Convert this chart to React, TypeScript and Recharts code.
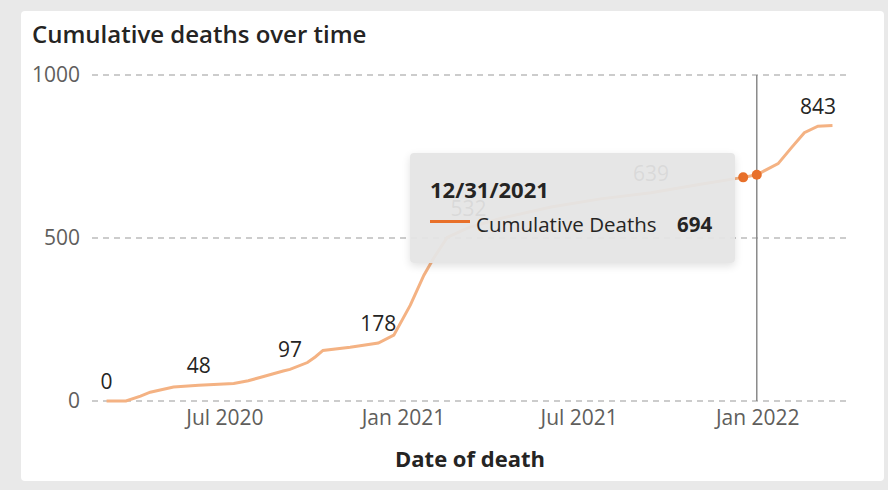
import React from 'react';
import { LineChart, Line, XAxis, YAxis, CartesianGrid, ReferenceLine, LabelList } from 'recharts';

const dates = [
  '2020-03-01', '2020-03-21', '2020-04-05', '2020-04-15', '2020-05-09', '2020-06-04',
  '2020-07-10', '2020-07-25', '2020-08-07', '2020-08-30', '2020-09-06', '2020-09-24',
  '2020-10-02', '2020-10-10', '2020-11-07', '2020-12-06', '2020-12-22', '2021-01-08',
  '2021-01-22', '2021-02-01', '2021-02-15', '2021-03-09', '2021-04-11', '2021-06-02',
  '2021-07-23', '2021-09-13', '2021-11-03', '2021-12-17', '2021-12-31', '2022-01-22',
  '2022-02-05', '2022-02-18', '2022-03-04', '2022-03-19',
];
const deaths = [
  0, 0, 15, 27, 43, 48,
  54, 62, 73, 92, 97, 118,
  135, 155, 165, 178, 202, 294,
  386, 438, 502, 532, 560, 595,
  620, 639, 665, 686, 694, 728,
  778, 823, 843, 845,
];
const labeledDates = ['2020-03-01', '2020-06-04', '2020-09-06', '2020-12-06', '2021-03-09', '2021-09-13', '2022-03-04'];
const highlightedDates = ['2021-12-17', '2021-12-31'];
const xTickDates = ['2020-07-01', '2021-01-01', '2021-07-01', '2022-01-01'];
const xTickLabels = ['Jul 2020', 'Jan 2021', 'Jul 2021', 'Jan 2022'];
const yTicks = [0, 500, 1000];
const xDomainDates = ['2020-02-15', '2022-04-04'];
const tooltipDate = '2021-12-31';
const tooltipTitle = '12/31/2021';
const seriesName = 'Cumulative Deaths';

const ts = (d: string) => new Date(d + 'T00:00:00Z').getTime();

const data = dates.map((d, i) => ({
  t: ts(d),
  date: d,
  deaths: deaths[i],
  label: labeledDates.includes(d) ? deaths[i] : null,
}));

const tooltipValue = deaths[dates.indexOf(tooltipDate)];
const FONT = '"Open Sans", "Noto Sans", sans-serif';

const renderLabel = (props: any) => {
  const { x, y, value } = props;
  if (value === null || value === undefined) return null;
  return (
    <text x={x} y={y - 12} textAnchor="middle" fontSize={21} fill="#252423" fontFamily={FONT}>
      {value}
    </text>
  );
};

const renderDot = (props: any) => {
  const { cx, cy, payload } = props;
  if (!highlightedDates.includes(payload.date)) return <g key={payload.date} />;
  return <circle key={payload.date} cx={cx} cy={cy} r={5} fill="#E8702A" stroke="none" />;
};

export default function App() {
  return (
    <div style={{ position: 'absolute', left: 0, top: 0, width: 888, height: 490, background: '#e9e9e9', fontFamily: FONT }}>
      <div style={{ position: 'absolute', left: 21, top: 11, width: 863, height: 470, background: '#ffffff', borderRadius: 4 }} />
      <div style={{ position: 'absolute', left: 32, top: 17, fontSize: 24, fontWeight: 600, color: '#252423', lineHeight: 'normal', whiteSpace: 'nowrap' }}>
        Cumulative deaths over time
      </div>
      <div style={{ position: 'absolute', left: 0, top: 0 }}>
        <LineChart width={888} height={490} data={data} margin={{ top: 75, right: 40, bottom: 0, left: 0 }}>
          <CartesianGrid vertical={false} stroke="#9a9a9a" strokeDasharray="6 5" strokeWidth={1.2} />
          <XAxis
            dataKey="t"
            type="number"
            scale="time"
            domain={[ts(xDomainDates[0]), ts(xDomainDates[1])]}
            ticks={xTickDates.map(ts)}
            tickFormatter={(v: number) => xTickLabels[xTickDates.map(ts).indexOf(v)] ?? ''}
            axisLine={false}
            tickLine={false}
            height={89}
            tickMargin={3}
            tick={{ fontSize: 21, fill: '#605E5C', fontFamily: FONT }}
            label={{ value: 'Date of death', position: 'insideBottom', offset: 23, fontSize: 22, fontWeight: 700, fill: '#252423', fontFamily: FONT }}
          />
          <YAxis
            type="number"
            domain={[0, 1000]}
            ticks={yTicks}
            axisLine={false}
            tickLine={false}
            width={92}
            tickMargin={6}
            tick={{ fontSize: 21, fill: '#605E5C', fontFamily: FONT }}
          />
          <ReferenceLine x={ts(tooltipDate)} stroke="#8a8a8a" strokeWidth={1.5} ifOverflow="extendDomain" />
          <Line
            type="linear"
            dataKey="deaths"
            stroke="#F4B283"
            strokeWidth={3}
            dot={renderDot}
            activeDot={false}
            isAnimationActive={false}
          >
            <LabelList dataKey="label" content={renderLabel} />
          </Line>
        </LineChart>
      </div>
      <div
        style={{
          position: 'absolute', left: 410, top: 153, width: 325, height: 110,
          background: 'rgba(228,228,228,0.94)', borderRadius: 4,
          boxShadow: '0 3px 8px rgba(0,0,0,0.12)',
        }}
      >
        <div style={{ position: 'absolute', left: 20, top: 21, fontSize: 22, fontWeight: 700, color: '#252423', lineHeight: 'normal' }}>
          {tooltipTitle}
        </div>
        <div style={{ position: 'absolute', left: 20, top: 67, width: 40, height: 3, background: '#E8702A' }} />
        <div style={{ position: 'absolute', left: 66, top: 57, fontSize: 20.5, color: '#252423', lineHeight: 'normal', whiteSpace: 'nowrap' }}>
          {seriesName}
        </div>
        <div style={{ position: 'absolute', left: 267, top: 57, fontSize: 20.5, fontWeight: 700, color: '#252423', lineHeight: 'normal' }}>
          {tooltipValue}
        </div>
      </div>
    </div>
  );
}
